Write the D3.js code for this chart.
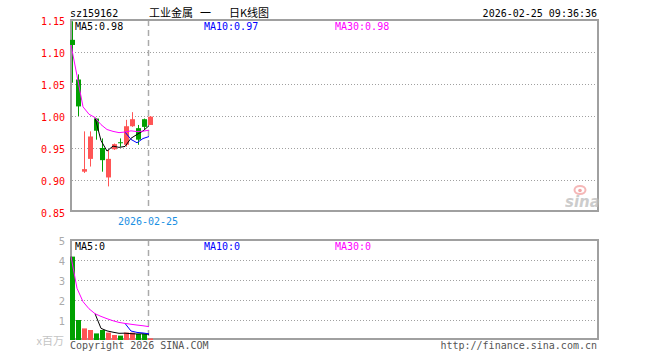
<!DOCTYPE html>
<html><head><meta charset="utf-8">
<script src="https://cdn.jsdelivr.net/npm/d3@7"></script>
<style>body{margin:0;background:#fff}svg{display:block}</style>
</head><body><svg id="c" width="660" height="360"></svg>
<script>
const dates = ["2026-01-29","2026-01-30","2026-02-02","2026-02-03","2026-02-04","2026-02-05","2026-02-06","2026-02-09","2026-02-10","2026-02-11","2026-02-12","2026-02-13","2026-02-24","2026-02-25"];
const openP  = [1.119, 1.057, 0.913, 0.933, 0.996, 0.950, 0.904, 0.948, 0.959, 0.955, 0.984, 0.981, 0.995, 0.986];
const highP  = [1.148, 1.065, 0.976, 0.976, 0.996, 0.965, 0.947, 0.957, 0.965, 0.994, 1.006, 0.986, 0.996, 1.000];
const lowP   = [1.052, 1.000, 0.911, 0.921, 0.963, 0.913, 0.890, 0.947, 0.952, 0.952, 0.983, 0.955, 0.979, 0.986];
const closeP = [1.111, 1.015, 0.917, 0.968, 0.977, 0.931, 0.933, 0.956, 0.958, 0.984, 0.995, 0.963, 0.983, 0.999];
const volume = [4.17, 1.00, 0.58, 0.50, 0.33, 0.50, 0.37, 0.25, 0.22, 0.37, 0.37, 0.30, 0.30, 0.08];
const priceTicks = [0.85, 0.90, 0.95, 1.00, 1.05, 1.10, 1.15];
const volTicks = [1, 2, 3, 4, 5];
const markDate = "2026-02-25";
const maPeriods = [5, 10, 30];
const maColors = ["#000000", "#0000ff", "#ff00ff"];
const code = "sz159162";
const stamp = "2026-02-25 09:36:36";

const svg = d3.select("#c");
const mono = "'DejaVu Sans Mono', monospace";
const RED = "#ff5555", GREEN = "#00a000", GRID = "#a0a0a0";
const L = 71, R = 598;

const x = d3.scaleLinear().domain([0, 88]).range([70, 598]);
const yP = d3.scaleLinear().domain([0.85, 1.15]).range([212, 20]);
const yV = d3.scaleLinear().domain([0, 5]).range([340, 240]);

function ma(arr, n) {
  const start = arr.length < n ? 0 : n - 1;
  const out = [];
  for (let i = start; i < arr.length; i++) {
    const s = arr.slice(Math.max(0, i - n + 1), i + 1);
    out.push({i, v: d3.mean(s)});
  }
  return out;
}
const isUp = i => closeP[i] >= openP[i];

// titles
svg.append("text").attr("x", 70).attr("y", 17).attr("font-family", mono).attr("font-size", 10).attr("fill", "#000").text(code);
const t = svg.append("text").attr("y", 16.5).attr("font-family", "'Noto Sans CJK SC'").attr("font-size", 11).attr("fill", "#000");
t.append("tspan").attr("x", 149).text("工业金属");
t.append("tspan").attr("x", 200).text("一");
t.append("tspan").attr("x", 229).text("日K线图");
svg.append("text").attr("x", 597).attr("y", 17).attr("text-anchor", "end").attr("font-family", mono).attr("font-size", 10).attr("fill", "#000").text(stamp);

// grids
const gP = svg.append("g");
gP.selectAll("line.g").data(priceTicks.filter(d => d > 0.85 && d < 1.15)).join("line")
  .attr("x1", L + 1).attr("x2", R - 1).attr("y1", d => Math.round(yP(d)) + 0.5).attr("y2", d => Math.round(yP(d)) + 0.5)
  .attr("stroke", GRID).attr("stroke-dasharray", "1,2");
const gV = svg.append("g");
gV.selectAll("line.g").data(volTicks.filter(d => d < 5)).join("line")
  .attr("x1", L + 1).attr("x2", R - 1).attr("y1", d => Math.round(yV(d)) + 0.5).attr("y2", d => Math.round(yV(d)) + 0.5)
  .attr("stroke", GRID).attr("stroke-dasharray", "1,2");

// marker dashed line
const mi = dates.indexOf(markDate);
[[20, 211], [240, 339]].forEach(([a, b]) => {
  svg.append("line").attr("x1", x(mi) + 0.5).attr("x2", x(mi) + 0.5).attr("y1", a).attr("y2", b)
    .attr("stroke", "#aaa").attr("stroke-width", 1.5).attr("stroke-dasharray", "6,4");
});
svg.append("text").attr("x", x(mi)).attr("y", 225).attr("text-anchor", "middle").attr("font-family", mono).attr("font-size", 10).attr("fill", "#1a8fe3").text(markDate);

// frames
svg.append("rect").attr("x", L).attr("y", 20).attr("width", R - L).attr("height", 191).attr("fill", "none").attr("stroke", "#a0a0a0").attr("stroke-width", 2);
svg.append("rect").attr("x", L).attr("y", 240).attr("width", R - L).attr("height", 99).attr("fill", "none").attr("stroke", "#a0a0a0").attr("stroke-width", 2);

// price axis
const ax = svg.append("g").attr("transform", "translate(70,0)")
  .call(d3.axisLeft(yP).tickValues(priceTicks).tickSize(0).tickPadding(5).tickFormat(d3.format(".2f")));
ax.select(".domain").remove();
ax.selectAll("text").attr("font-family", mono).attr("font-size", 10).attr("fill", "#ff0000").attr("dy", "0.45em");

// volume axis
const av = svg.append("g").attr("transform", "translate(70,0)")
  .call(d3.axisLeft(yV).tickValues(volTicks).tickSize(0).tickPadding(5).tickFormat(d3.format("d")));
av.select(".domain").remove();
av.selectAll("text").attr("font-family", "'DejaVu Sans', sans-serif").attr("font-size", 10).attr("fill", "#aaa").attr("dy", "0.4em");
svg.append("text").attr("x", 64).attr("y", 345).attr("text-anchor", "end").attr("font-family", "'Noto Sans CJK SC'").attr("font-size", 11).attr("fill", "#c4c4c4").text("x百万");

// candles
const idx = d3.range(dates.length);
const cg = svg.append("g");
cg.selectAll("line.w").data(idx).join("line")
  .attr("x1", i => x(i) + 2.5).attr("x2", i => x(i) + 2.5)
  .attr("y1", i => yP(highP[i])).attr("y2", i => yP(lowP[i]))
  .attr("stroke", i => isUp(i) ? RED : GREEN).attr("stroke-width", 1);
cg.selectAll("rect").data(idx).join("rect")
  .attr("x", i => x(i)).attr("width", 5)
  .attr("y", i => yP(Math.max(openP[i], closeP[i])))
  .attr("height", i => Math.max(1, Math.abs(yP(openP[i]) - yP(closeP[i]))))
  .attr("fill", i => isUp(i) ? RED : GREEN);

// volume bars
svg.append("g").selectAll("rect").data(idx).join("rect")
  .attr("x", i => x(i)).attr("width", 5)
  .attr("y", i => yV(volume[i])).attr("height", i => yV(0) - yV(volume[i]))
  .attr("fill", i => isUp(i) ? RED : GREEN);

// MA lines
const lnP = d3.line().x(d => x(d.i) + 1).y(d => yP(d.v));
const lnV = d3.line().x(d => x(d.i) + 1).y(d => yV(d.v));
maPeriods.forEach((n, k) => {
  svg.append("path").attr("d", lnP(ma(closeP, n))).attr("fill", "none").attr("stroke", maColors[k]).attr("stroke-width", 1);
  svg.append("path").attr("d", lnV(ma(volume, n))).attr("fill", "none").attr("stroke", maColors[k]).attr("stroke-width", 1);
});

// legends
const legX = [75, 204, 335];
maPeriods.forEach((n, k) => {
  const mp = ma(closeP, n), mv = ma(volume, n);
  svg.append("text").attr("x", legX[k]).attr("y", 30).attr("font-family", mono).attr("font-size", 10)
    .attr("fill", maColors[k]).text(`MA${n}:${d3.format(".2f")(mp[mp.length - 1].v)}`);
  svg.append("text").attr("x", legX[k]).attr("y", 250).attr("font-family", mono).attr("font-size", 10)
    .attr("fill", maColors[k]).text(`MA${n}:${Math.floor(mv[mv.length - 1].v)}`);
});

// footer
svg.append("text").attr("x", 70).attr("y", 349).attr("font-family", mono).attr("font-size", 10).attr("fill", "#555").text("Copyright 2026 SINA.COM");
svg.append("text").attr("x", 597).attr("y", 349).attr("text-anchor", "end").attr("font-family", mono).attr("font-size", 10).attr("fill", "#555").text("http://finance.sina.com.cn");

// sina watermark
const wm = svg.append("g").attr("opacity", 0.75);
wm.append("ellipse").attr("cx", 580).attr("cy", 190).attr("rx", 5.5).attr("ry", 4).attr("fill", "none").attr("stroke", "#f2a0a0").attr("stroke-width", 2);
wm.append("circle").attr("cx", 580).attr("cy", 190.5).attr("r", 1.8).attr("fill", "#e88");
wm.append("text").attr("x", 565).attr("y", 207).attr("font-family", "'DejaVu Sans', sans-serif").attr("font-size", 15)
  .attr("font-style", "italic").attr("font-weight", "bold").attr("fill", "#bbb").text("sina");
</script></body></html>
